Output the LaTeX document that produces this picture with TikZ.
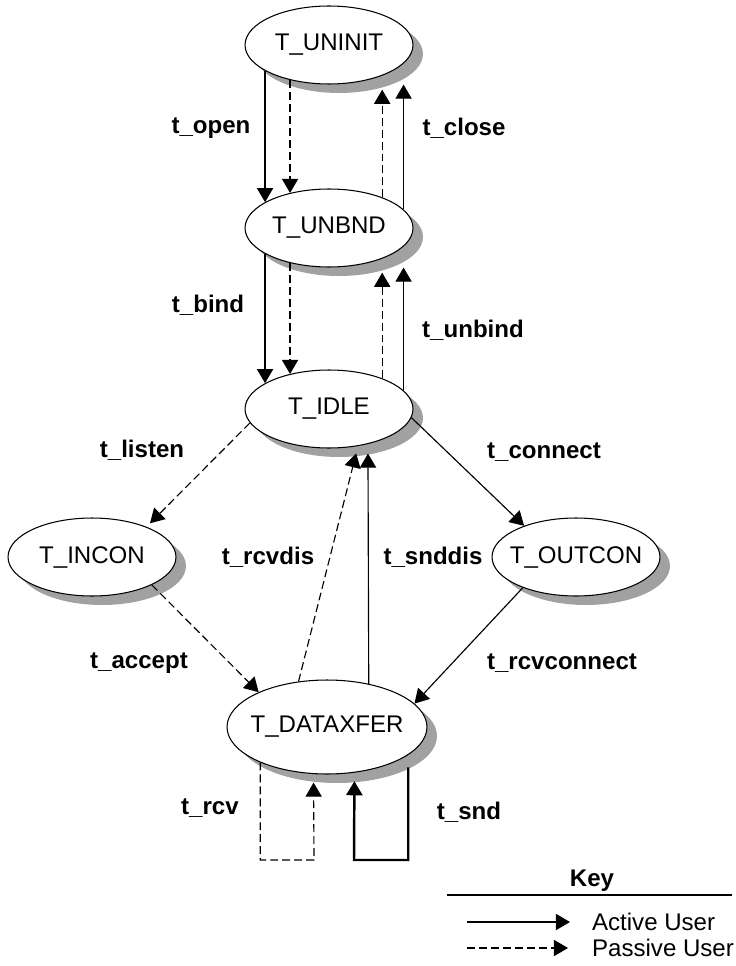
\documentclass[tikz,border=0pt]{standalone}
\usepackage{fontspec}
\setmainfont{Liberation Sans}
\usetikzlibrary{arrows.meta,shapes.geometric,shadows}
\tikzset{
	state/.style={ellipse, draw, line width=0.6pt, fill=white, inner xsep=-0.3cm,
		minimum width=3.36cm, minimum height=1.56cm,
		drop shadow={shadow xshift=0.2cm, shadow yshift=-0.18cm, fill=black!37, opacity=1}},
	lbl/.style={font=\fontsize{13.7}{16}\selectfont\bfseries},
	active/.style={-{Triangle[length=8pt,width=9.2pt]}, line width=0.65pt},
	passive/.style={active, dash pattern=on 4.5pt off 2.3pt}
}

\begin{document}
\begin{tikzpicture}[font=\fontsize{13.7}{16}\selectfont]
	\begin{scope}[x=0.02cm, y=-0.02cm]
		\tikzstyle{every node}=[inner sep=1pt]
		\useasboundingbox (0,0) rectangle (735,966);

		% states
		\node[state] (uninit) at (329,45) {T\_UNINIT};
		\node[state] (unbnd) at (329,228) {T\_UNBND};
		\node[state] (idle) at (329,409) {T\_IDLE};
		\node[state] (incon) at (92,557) {T\_INCON};
		\node[state] (outcon) at (576,557) {T\_OUTCON};
		\node[state, minimum width=4cm, minimum height=1.88cm] (dataxfer) at (327,727) {T\_DATAXFER};

		% calls
		\node[lbl] (open) at (211,128) {t\_open};
		\node[lbl] (close) at (464,128) {t\_close};
		\node[lbl] (bind) at (208,305) {t\_bind};
		\node[lbl] (unbind) at (473,330) {t\_unbind};
		\node[lbl] (listen) at (142,450) {t\_listen};
		\node[lbl] (connect) at (544,452) {t\_connect};
		\node[lbl] (rcvdis) at (268,557) {t\_rcvdis};
		\node[lbl] (snddis) at (433,557) {t\_snddis};
		\node[lbl] (accept) at (139,663) {t\_accept};
		\node[lbl] (rcvconnect) at (562,663) {t\_rcvconnect};
		\node[lbl] (rcv) at (210,808) {t\_rcv};
		\node[lbl] (snd) at (469,812) {t\_snd};

		\draw [active] (uninit.202) -- (unbnd.158);
		\draw [passive] (uninit.222) -- (unbnd.138);
		\draw [passive, shorten >=0.28cm] (unbnd.30) -- (uninit.330);
		\draw [active, shorten >=0.42cm] (unbnd.14) -- (uninit.346);

		\draw [active] (unbnd.202) -- (idle.158);
		\draw [passive] (unbnd.222) -- (idle.138);
		\draw [passive, shorten >=0.28cm] (idle.30) -- (unbnd.330);
		\draw [active, shorten >=0.42cm] (idle.14) -- (unbnd.346);

		\draw [passive, shorten >=0.1cm] (idle.190) -- (incon.29);
		\draw [active] (idle.354) -- (outcon.149);
		\draw [passive] (incon.335) -- (dataxfer.153);
		\draw [active] (outcon.210) -- (dataxfer.15);
		\draw [passive, shorten >=0.15cm] (dataxfer.122) -- (idle.308);
		\draw [active, shorten >=0.19cm] (dataxfer.46) -- (idle.318);

		\coordinate (rcvturn) at (314,860);
		\coordinate (sndturn) at (354,860);
		\draw [passive, shorten >=0.17cm] (dataxfer.208) |- (rcvturn) -- (dataxfer.254);
		\draw [active, line width=1.4pt, shorten <=0.25cm, shorten >=0.17cm] (dataxfer.341) |- (sndturn) -- (dataxfer.301);

		% key
		\node[lbl] (keyhead) at (592,881) {Key};
		\coordinate (keyl) at (447,895);
		\coordinate (keyr) at (732,895);
		\draw [line width=0.65pt] (keyl) -- (keyr);
		\coordinate (acta) at (467,922);
		\coordinate (actb) at (570,922);
		\draw [active] (acta) -- (actb);
		\node[anchor=west] (actuser) at (590,922) {Active User};
		\coordinate (pasa) at (467,948);
		\coordinate (pasb) at (568,948);
		\draw [passive] (pasa) -- (pasb);
		\node[anchor=west] (pasuser) at (590,948) {Passive User};
	\end{scope}
\end{tikzpicture}
\end{document}
